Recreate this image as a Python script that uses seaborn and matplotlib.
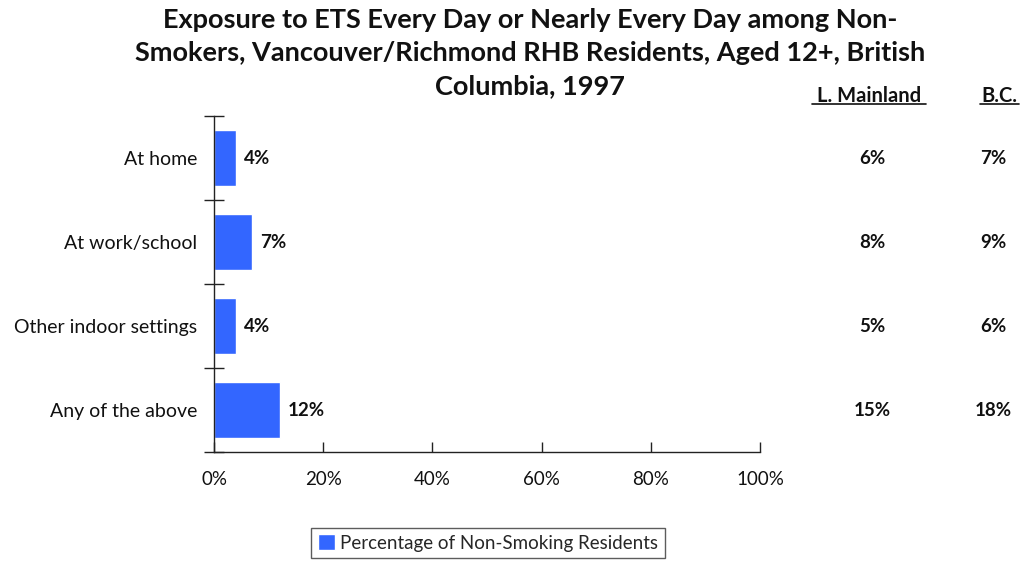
import matplotlib
matplotlib.use("Agg")
import matplotlib.pyplot as plt
import matplotlib.transforms as mtransforms
import seaborn as sns
import pandas as pd

categories = ["At home", "At work/school", "Other indoor settings", "Any of the above"]
region_values = [4, 7, 4, 12]
mainland_values = [6, 8, 5, 15]
bc_values = [7, 9, 6, 18]
x_ticks = [0, 20, 40, 60, 80, 100]
series_name = "Percentage of Non-Smoking Residents"
title_lines = ["Exposure to ETS Every Day or Nearly Every Day among Non-",
               "Smokers, Vancouver/Richmond RHB Residents, Aged 12+, British",
               "Columbia, 1997"]

sns.set_theme(style="white")
plt.rcParams["font.family"] = ["Lato", "DejaVu Sans"]

df = pd.DataFrame({"category": categories, "value": region_values, "series": series_name})

fig = plt.figure(figsize=(10.22, 5.61), dpi=100)
ax = fig.add_axes([214/1022, 1-452/561, 546/1022, 336/561])

sns.barplot(data=df, x="value", y="category", hue="series", orient="h",
            palette=["#3366FF"], width=0.667, ax=ax, saturation=1, legend=True)

ax.set_xlim(0, 100)
ax.set_ylim(len(categories) - 0.5, -0.5)
ax.set_xticks(x_ticks)
ax.set_xticklabels([f"{t}%" for t in x_ticks], fontsize=13.5, color="#111111")
ax.set_yticks([i + 0.5 for i in range(-1, len(categories))], minor=False)
ax.set_yticklabels([])
ax.set_yticks(range(len(categories)), minor=True)
ax.set_yticklabels(categories, minor=True, fontsize=14, color="#111111")
ax.tick_params(axis="y", which="major", left=True, direction="inout", length=14, width=1, color="#222222")
ax.tick_params(axis="y", which="minor", left=False, length=0, pad=12)
ax.tick_params(axis="x", bottom=True, direction="in", length=7, width=1, color="#222222", pad=14)
ax.set_xlabel("")
ax.set_ylabel("")
for s in ["top", "right"]:
    ax.spines[s].set_visible(False)
for s in ["left", "bottom"]:
    ax.spines[s].set_color("#222222")
    ax.spines[s].set_linewidth(1)

for i, v in enumerate(region_values):
    ax.text(v + 1.5, i, f"{v}%", va="center", ha="left", fontsize=13.5, fontweight="bold", color="#111111")

trans = mtransforms.blended_transform_factory(fig.transFigure, ax.transData)
for i, (m, b) in enumerate(zip(mainland_values, bc_values)):
    ax.text(872/1022, i, f"{m}%", transform=trans, ha="center", va="center",
            fontsize=13.5, fontweight="bold", color="#111111")
    ax.text(993/1022, i, f"{b}%", transform=trans, ha="center", va="center",
            fontsize=13.5, fontweight="bold", color="#111111")

fig.text(869/1022, 1-96/561, "L. Mainland", ha="center", va="center", fontsize=14.5,
         fontweight="bold", color="#111111")
fig.text(999/1022, 1-96/561, "B.C.", ha="center", va="center", fontsize=14.5,
         fontweight="bold", color="#111111")
fig.add_artist(plt.Line2D([812/1022, 926/1022], [1-104/561, 1-104/561], color="#111111", lw=1.2))
fig.add_artist(plt.Line2D([980/1022, 1019/1022], [1-104/561, 1-104/561], color="#111111", lw=1.2))

for k, (line, y) in enumerate(zip(title_lines, [20, 53, 86])):
    fig.text(530/1022, 1-y/561, line, ha="center", va="center", fontsize=19.5,
             fontweight="bold", color="#111111")

leg = ax.legend(loc="center", bbox_to_anchor=(488/1022, 1-543/561), bbox_transform=fig.transFigure,
                frameon=True, fontsize=13.5, handlelength=0.9, handleheight=0.9,
                handletextpad=0.3, borderpad=0.35, fancybox=False)
leg.get_frame().set_edgecolor("#333333")
leg.get_frame().set_linewidth(1)

fig.savefig("out.png", dpi=100)
